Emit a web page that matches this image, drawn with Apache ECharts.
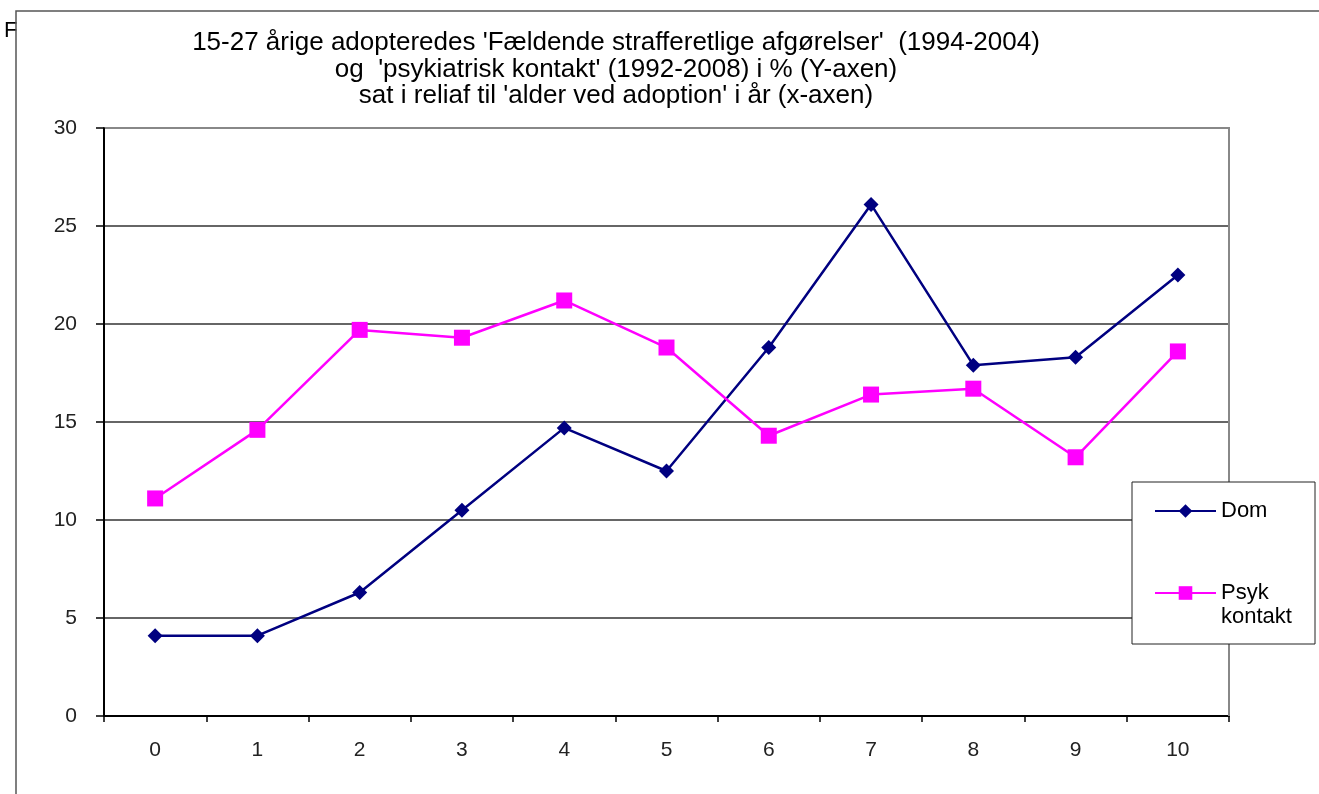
<!DOCTYPE html>
<html>
<head>
<meta charset="utf-8">
<script src="https://cdn.jsdelivr.net/npm/echarts@6/dist/echarts.min.js"></script>
<style>
  html, body { margin: 0; padding: 0; background: #fff; }
  #chart { width: 1319px; height: 794px; }
</style>
</head>
<body>
<div id="chart"></div>
<script>
// alder ved adoption (år)
const categories = ['0', '1', '2', '3', '4', '5', '6', '7', '8', '9', '10'];
// fældende strafferetlige afgørelser, %
const domValues = [4.1, 4.1, 6.3, 10.5, 14.7, 12.5, 18.8, 26.1, 17.9, 18.3, 22.5];
// psykiatrisk kontakt, %
const psykValues = [11.1, 14.6, 19.7, 19.3, 21.2, 18.8, 14.3, 16.4, 16.7, 13.2, 18.6];
const yTicks = [0, 5, 10, 15, 20, 25, 30];

const titleText = "15-27 årige adopteredes 'Fældende strafferetlige afgørelser'  (1994-2004)\n" +
  "og  'psykiatrisk kontakt' (1992-2008) i % (Y-axen)\n" +
  "sat i reliaf til 'alder ved adoption' i år (x-axen)";

const font = '"Liberation Sans", Arial, sans-serif';
const chart = echarts.init(document.getElementById('chart'));

const option = {
  animation: false,
  backgroundColor: '#fff',
  textStyle: { fontFamily: font },
  title: {
    text: titleText,
    left: 611,
    top: 25,
    textAlign: 'center',
    textStyle: { fontFamily: font, fontSize: 26, fontWeight: 'normal', color: '#000', lineHeight: 26.5 }
  },
  graphic: [
    { type: 'text', x: 4, y: 20, z: 0,
      style: { text: 'F', font: '22px "Liberation Sans", Arial, sans-serif', fill: '#000' } },
    { type: 'rect', z: 1, shape: { x: 17, y: 12, width: 20, height: 40 }, style: { fill: '#fff' } },
    { type: 'rect', z: 1, shape: { x: 16, y: 11, width: 1400, height: 900 },
      style: { fill: 'none', stroke: '#555', lineWidth: 1.5 } },
    // plot area border (top/right)
    { type: 'polyline', z: 2, shape: { points: [[105, 128], [1229, 128], [1229, 716]] },
      style: { fill: 'none', stroke: '#888', lineWidth: 2 } },
    // legend box
    { type: 'rect', z: 5, shape: { x: 1132, y: 482, width: 183, height: 162 },
      style: { fill: '#fff', stroke: '#222', lineWidth: 1 } }
  ],
  grid: { left: 104, top: 128, right: 90, bottom: 78, containLabel: false },
  legend: [
    {
      data: ['Dom'],
      orient: 'vertical',
      left: 1154,
      top: 499,
      padding: 0,
      z: 6,
      itemWidth: 61,
      itemHeight: 17,
      textStyle: { fontFamily: font, fontSize: 22, color: '#000', lineHeight: 24 }
    },
    {
      data: ['Psyk kontakt'],
      orient: 'vertical',
      left: 1154,
      top: 557,
      padding: 0,
      z: 6,
      itemWidth: 61,
      itemHeight: 17,
      formatter: function (n) { return ' \n' + n.replace(' ', '\n'); },
      textStyle: { fontFamily: font, fontSize: 22, color: '#000', lineHeight: 24 }
    }
  ],
  xAxis: {
    type: 'category',
    data: categories,
    boundaryGap: true,
    axisLine: { lineStyle: { color: '#000', width: 2 } },
    axisTick: { show: true, length: 6, lineStyle: { color: '#000', width: 1.5 } },
    axisLabel: { margin: 24, fontSize: 21, color: '#222', fontFamily: font },
    splitLine: { show: false }
  },
  yAxis: {
    type: 'value',
    min: 0,
    max: 30,
    interval: 5,
    axisLine: { show: true, lineStyle: { color: '#000', width: 2 } },
    axisTick: { show: true, length: 8, lineStyle: { color: '#000', width: 1.5 } },
    axisLabel: {
      margin: 27, fontSize: 21, color: '#222', fontFamily: font,
      formatter: function (v) { return yTicks.indexOf(v) >= 0 ? String(v) : ''; }
    },
    splitLine: { show: true, showMaxLine: false, lineStyle: { color: '#333', width: 1.5 } }
  },
  series: [
    {
      name: 'Dom',
      type: 'line',
      data: domValues,
      symbol: 'diamond',
      symbolSize: 15,
      z: 4,
      lineStyle: { color: '#000080', width: 2.5 },
      itemStyle: { color: '#000080' }
    },
    {
      name: 'Psyk kontakt',
      type: 'line',
      data: psykValues,
      symbol: 'rect',
      symbolSize: 16,
      z: 4,
      lineStyle: { color: '#FF00FF', width: 2.5 },
      itemStyle: { color: '#FF00FF' }
    }
  ]
};

chart.setOption(option);
</script>
</body>
</html>
